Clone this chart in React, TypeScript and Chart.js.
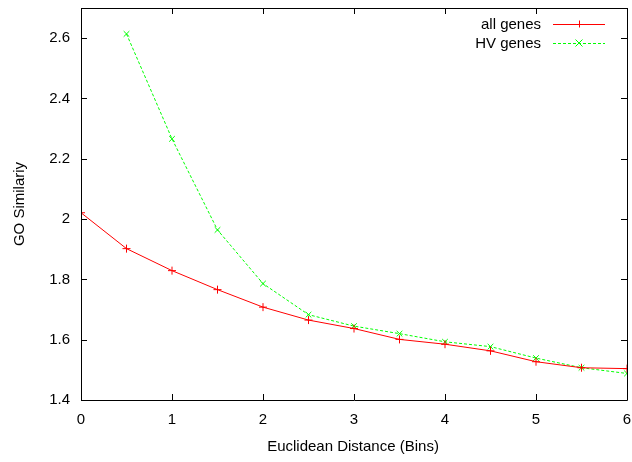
import React, { useEffect, useRef } from "react";
import { Chart, registerables } from "chart.js";

Chart.register(...registerables);

const xValues = [0, 0.5, 1, 1.5, 2, 2.5, 3, 3.5, 4, 4.5, 5, 5.5, 6];
const allGenes = [2.021, 1.902, 1.829, 1.766, 1.708, 1.665, 1.637, 1.601, 1.585, 1.563, 1.527, 1.507, 1.504];
const hvGenes = [null, 2.614, 2.266, 1.964, 1.786, 1.683, 1.645, 1.62, 1.593, 1.577, 1.539, 1.507, 1.488];
const seriesNames = ["all genes", "HV genes"];
const xTitle = "Euclidean Distance (Bins)";
const yTitle = "GO Similariy";

const FONT = "'Liberation Sans', Arial, Helvetica, sans-serif";

const framePlugin = {
  id: "frame",
  afterDraw(chart: any) {
    const { ctx, chartArea: a, scales } = chart;
    const xs = scales.x;
    const ys = scales.y;
    ctx.save();
    ctx.strokeStyle = "#000";
    ctx.lineWidth = 1;
    ctx.beginPath();
    ctx.rect(Math.round(a.left) + 0.5, Math.round(a.top) + 0.5, Math.round(a.right - a.left), Math.round(a.bottom - a.top));
    ctx.stroke();
    const tl = 6;
    ctx.beginPath();
    for (const t of xs.ticks) {
      const px = Math.round(xs.getPixelForValue(t.value)) + 0.5;
      ctx.moveTo(px, a.bottom);
      ctx.lineTo(px, a.bottom - tl);
      ctx.moveTo(px, a.top);
      ctx.lineTo(px, a.top + tl);
    }
    for (const t of ys.ticks) {
      const py = Math.round(ys.getPixelForValue(t.value)) + 0.5;
      ctx.moveTo(a.left, py);
      ctx.lineTo(a.left + tl, py);
      ctx.moveTo(a.right, py);
      ctx.lineTo(a.right - tl, py);
    }
    ctx.stroke();

    // axis titles
    ctx.fillStyle = "#000";
    ctx.font = `15px ${FONT}`;
    ctx.textAlign = "center";
    ctx.textBaseline = "middle";
    ctx.fillText(xTitle, (a.left + a.right) / 2 - 1, 447);
    ctx.save();
    ctx.translate(20, (a.top + a.bottom) / 2);
    ctx.rotate(-Math.PI / 2);
    ctx.fillText(yTitle, 0, 0);
    ctx.restore();

    // legend
    const ds = chart.data.datasets;
    const textRight = a.right - 86;
    const lineStart = a.right - 74;
    const lineEnd = a.right - 22;
    ctx.font = `15px ${FONT}`;
    ctx.textAlign = "right";
    ctx.textBaseline = "middle";
    ds.forEach((d: any, i: number) => {
      const y = a.top + 16 + i * 19;
      ctx.fillStyle = "#000";
      ctx.fillText(d.label, textRight, y + 1);
      ctx.strokeStyle = d.borderColor;
      ctx.lineWidth = 1;
      ctx.setLineDash(d.borderDash || []);
      ctx.beginPath();
      ctx.moveTo(lineStart, y + 0.5);
      ctx.lineTo(lineEnd, y + 0.5);
      ctx.stroke();
      ctx.setLineDash([]);
      const mx = (lineStart + lineEnd) / 2;
      const r = 3.5;
      ctx.beginPath();
      if (d.pointStyle === "cross") {
        ctx.moveTo(mx - r, y + 0.5);
        ctx.lineTo(mx + r, y + 0.5);
        ctx.moveTo(mx + 0.5, y - r);
        ctx.lineTo(mx + 0.5, y + r);
      } else {
        ctx.moveTo(mx - r, y - r);
        ctx.lineTo(mx + r, y + r);
        ctx.moveTo(mx - r, y + r);
        ctx.lineTo(mx + r, y - r);
      }
      ctx.stroke();
    });
    ctx.restore();
  },
};

export default function App() {
  const ref = useRef<HTMLCanvasElement | null>(null);
  useEffect(() => {
    if (!ref.current) return;
    const chart = new Chart(ref.current, {
      type: "line",
      data: {
        datasets: [
          {
            label: seriesNames[0],
            data: xValues.map((x, i) => ({ x, y: allGenes[i] })),
            borderColor: "#ff0000",
            backgroundColor: "#ff0000",
            borderWidth: 1,
            pointStyle: "cross",
            pointRadius: 4,
            pointBorderWidth: 1,
            tension: 0,
          },
          {
            label: seriesNames[1],
            data: xValues.map((x, i) => ({ x, y: hvGenes[i] as any })),
            borderColor: "#00ff00",
            backgroundColor: "#00ff00",
            borderWidth: 1,
            borderDash: [3, 2],
            pointStyle: "crossRot",
            pointRadius: 4,
            pointBorderWidth: 1,
            tension: 0,
            spanGaps: false,
          },
        ],
      },
      options: {
        animation: false,
        responsive: false,
        maintainAspectRatio: false,
        layout: { padding: { top: 8, right: 5, left: 0, bottom: 0 } },
        plugins: { legend: { display: false }, tooltip: { enabled: false } },
        scales: {
          x: {
            type: "linear",
            min: 0,
            max: 6,
            grid: { display: false, drawTicks: false },
            border: { display: false },
            ticks: { stepSize: 1, color: "#000", font: { family: FONT, size: 15 }, padding: 11, maxRotation: 0 },
            afterFit(s: any) {
              s.height = 62;
              s.paddingLeft = 0;
              s.paddingRight = 0;
            },
          },
          y: {
            type: "linear",
            min: 1.4,
            max: 2.7,
            grid: { display: false, drawTicks: false },
            border: { display: false },
            ticks: { stepSize: 0.2, color: "#000", font: { family: FONT, size: 15 }, padding: 11, callback: (v: any) => String(Math.round(Number(v) * 10) / 10) },
            afterBuildTicks(s: any) {
              s.ticks = s.ticks.filter((t: any) => t.value <= 2.6 + 1e-9);
            },
            afterFit(s: any) {
              s.width = 81;
              s.paddingTop = 0;
              s.paddingBottom = 0;
            },
          },
        },
      },
      plugins: [framePlugin],
    } as any);
    return () => chart.destroy();
  }, []);
  return (
    <div style={{ position: "fixed", left: 0, top: 0, width: 632, height: 462, background: "#fff" }}>
      <canvas ref={ref} width={632} height={462} style={{ width: 632, height: 462 }} />
    </div>
  );
}
